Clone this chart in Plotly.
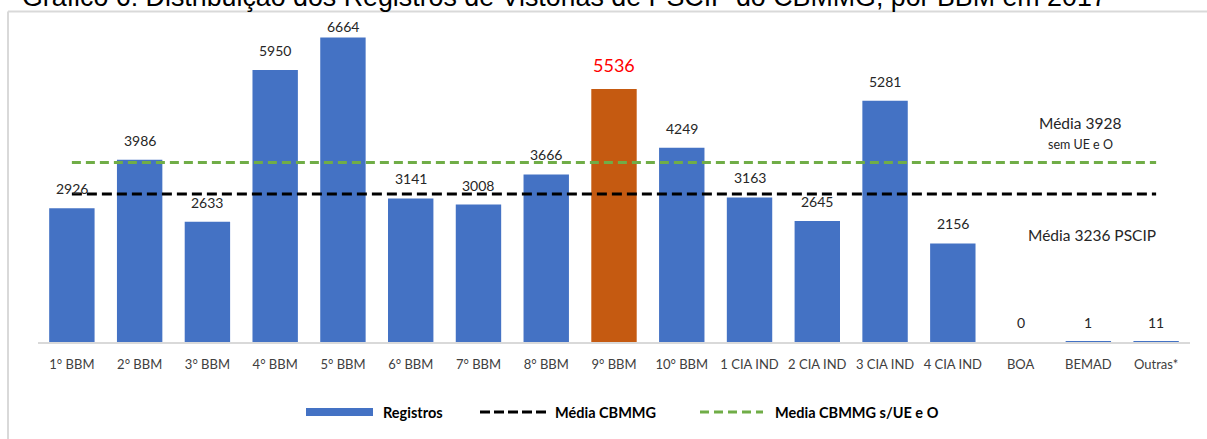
"""Registros de vistorias de PSCIP por BBM (2017) - barras com linhas de média."""

import plotly.graph_objects as go

UNIDADES = ["1° BBM", "2° BBM", "3° BBM", "4° BBM", "5° BBM", "6° BBM", "7° BBM", "8° BBM", "9° BBM",
            "10° BBM", "1 CIA IND", "2 CIA IND", "3 CIA IND", "4 CIA IND", "BOA", "BEMAD", "Outras*"]
REGISTROS = [2926, 3986, 2633, 5950, 6664, 3141, 3008, 3666, 5536, 4249, 3163, 2645, 5281, 2156, 0, 1, 11]
MEDIA_CBMMG = 3236
MEDIA_SEM_UE = 3928
DESTAQUE = "9° BBM"

TITULO = "Gráfico 6: Distribuição dos Registros de Vistorias de PSCIP do CBMMG, por BBM em 2017"

BLUE = "#4472C4"
ORANGE = "#C55A11"
GREEN = "#70AD47"
FONT = "Lato"
TXT = "#262626"

W, H = 1207, 439
M_L, M_R, M_T, M_B = 38, 17, 20, 97
PLOT_W = W - M_L - M_R
PLOT_H = H - M_T - M_B
Y_MAX = PLOT_H / 0.0457


def px_x(px):
    return (px - M_L) / PLOT_W


def px_y(py):
    return (H - M_B - py) / PLOT_H


colors = [ORANGE if u == DESTAQUE else BLUE for u in UNIDADES]

fig = go.Figure()
fig.add_trace(go.Bar(x=UNIDADES, y=REGISTROS, name="Registros", marker=dict(color=colors, line=dict(width=0))))
fig.add_trace(go.Scatter(x=UNIDADES, y=[MEDIA_CBMMG] * len(UNIDADES), mode="lines", name="Média CBMMG",
                         line=dict(color="black", width=3, dash="10px,5px")))
fig.add_trace(go.Scatter(x=UNIDADES, y=[MEDIA_SEM_UE] * len(UNIDADES), mode="lines", name="Media CBMMG s/UE e O",
                         line=dict(color=GREEN, width=3, dash="9px,5px")))

# rótulos de dados
for u, v in zip(UNIDADES, REGISTROS):
    if u == DESTAQUE:
        fig.add_annotation(x=u, y=v, text=str(v), showarrow=False, yanchor="bottom", yshift=11,
                           font=dict(family=FONT, size=18, color="#FF0000"))
    else:
        shift = 0 if v == max(REGISTROS) else 9
        fig.add_annotation(x=u, y=v, text=str(v), showarrow=False, yanchor="bottom", yshift=shift,
                           font=dict(family=FONT, size=14, color=TXT))

# textos das médias
for txt, x, y, size in [("Média 3928", 1080, 123, 15.5), ("sem UE e O", 1080, 144, 12.5),
                        ("Média 3236 PSCIP", 1092, 235, 15.5)]:
    fig.add_annotation(xref="paper", yref="paper", x=px_x(x), y=px_y(y), xanchor="center", yanchor="middle",
                       text=txt, showarrow=False, font=dict(family=FONT, size=size, color=TXT))

# título (cortado no topo, como no original)
fig.add_annotation(xref="paper", yref="paper", x=px_x(564), y=px_y(13.5), xanchor="center", yanchor="bottom",
                   text=TITULO, showarrow=False, font=dict(family="Liberation Sans", size=26.8, color="black"))

# moldura (só topo e esquerda visíveis)
frame = dict(color="#d9d9d9", width=2)
fig.add_shape(type="line", xref="paper", yref="paper", x0=px_x(8), x1=px_x(W + 5), y0=px_y(11.5), y1=px_y(11.5),
              line=frame)
fig.add_shape(type="line", xref="paper", yref="paper", x0=px_x(8), x1=px_x(8), y0=px_y(11.5), y1=px_y(H + 5),
              line=frame)

# legenda
LEG_Y = 412
fig.add_shape(type="rect", xref="paper", yref="paper", x0=px_x(306), x1=px_x(373), y0=px_y(LEG_Y + 4),
              y1=px_y(LEG_Y - 4), fillcolor=BLUE, line=dict(width=0))
fig.add_shape(type="line", xref="paper", yref="paper", x0=px_x(480), x1=px_x(547), y0=px_y(LEG_Y), y1=px_y(LEG_Y),
              line=dict(color="black", width=3, dash="10px,4px"))
fig.add_shape(type="line", xref="paper", yref="paper", x0=px_x(700), x1=px_x(763), y0=px_y(LEG_Y), y1=px_y(LEG_Y),
              line=dict(color=GREEN, width=3, dash="9px,5px"))
for txt, x in [("Registros", 381), ("Média CBMMG", 553), ("Media CBMMG s/UE e O", 773)]:
    fig.add_annotation(xref="paper", yref="paper", x=px_x(x), y=px_y(LEG_Y), xanchor="left", yanchor="middle",
                       text=txt, showarrow=False, font=dict(family=FONT, size=14.5, color="black", weight="bold"))

fig.update_layout(
    width=W, height=H,
    margin=dict(l=M_L, r=M_R, t=M_T, b=M_B),
    paper_bgcolor="white", plot_bgcolor="white",
    bargap=0.33,
    showlegend=False,
    xaxis=dict(showline=True, linecolor="#d9d9d9", linewidth=1.5, showgrid=False, ticks="",
               tickfont=dict(family=FONT, size=13, color="#404040"), ticklabelstandoff=10),
    yaxis=dict(range=[0, Y_MAX], visible=False, showgrid=False, zeroline=False),
)

fig.write_html("out.html", config={"displayModeBar": False},
               post_script="document.body.style.margin='0';")
